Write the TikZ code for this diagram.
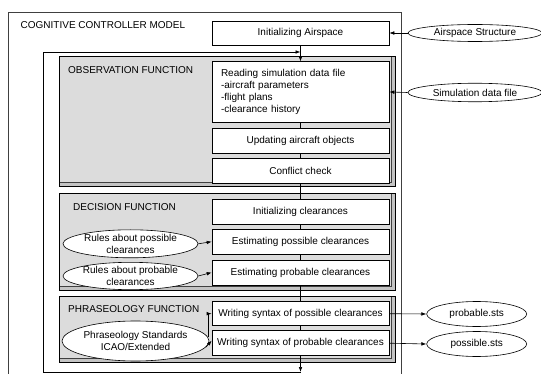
\documentclass[tikz,border=0pt]{standalone}
\usepackage{fontspec}
\setmainfont{Liberation Sans}
\usetikzlibrary{shapes.geometric,arrows.meta,calc}
\definecolor{panelgray}{HTML}{DCDCDC}
\definecolor{bandgray}{HTML}{C4C4C4}
\definecolor{framegray}{HTML}{404040}
\tikzset{
  every node/.style={font=\fontsize{10}{12}\selectfont, inner sep=0pt},
  stepbox/.style={draw=black, fill=white, line width=0.6pt, minimum width=177pt, minimum height=25pt},
  oval/.style={draw=black, fill=white, ellipse, line width=0.6pt},
  flow/.style={line width=0.6pt},
  arr/.style={line width=0.6pt, -{Latex[length=5pt,width=3.6pt]}},
  paneltitle/.style={anchor=west},
}
% raised panel: light band on the right and bottom edges
\newcommand\fpanel[4]{%
  \fill[bandgray] (#1,#2) rectangle (#3,#4);
  \fill[panelgray] (#1,#2) rectangle ($(#3,#4)+(-4,-4)$);
  \draw[framegray,line width=0.4pt] ($(#1,#4)+(0,-4)$) -- ($(#3,#4)+(-4,-4)$) -- ($(#3,#2)+(-4,0)$);
  \draw[black,line width=0.6pt] (#1,#2) rectangle (#3,#4);
}
\begin{document}
\begin{tikzpicture}[x=1pt,y=-1pt]
\useasboundingbox (0,0) rectangle (541,374);
\fill[white] (0,0) rectangle (541,374);
\begin{scope}
\clip (0,0) rectangle (541,374);

% model frame
\draw[framegray,line width=0.6pt] (8,12.5) rectangle (401,390);
\node[paneltitle] (title) at (20.5,25.5) {COGNITIVE CONTROLLER MODEL};

% function panels
\fpanel{59.5}{56.5}{395}{186}
\fpanel{59.5}{193.5}{395}{290}
\fpanel{59.5}{296.5}{395}{362}

\node[paneltitle] (obs) at (68,70.5) {OBSERVATION FUNCTION};
\node[paneltitle] (dec) at (73,207) {DECISION FUNCTION};
\node[paneltitle] (phr) at (68,309) {PHRASEOLOGY FUNCTION};

% process steps
\node[stepbox, minimum height=24pt] (ia) at (300.5,33) {Initializing Airspace};
\node[stepbox, minimum height=60.5pt, text width=159pt, align=left] (rd) at (300.5,92)
  {Reading simulation data file\\-aircraft parameters\\-flight plans\\-clearance history};
\node[stepbox] (up) at (300.5,140.8) {Updating aircraft objects};
\node[stepbox] (cc) at (300.5,170.8) {Conflict check};
\node[stepbox] (ic) at (300.5,211.6) {Initializing clearances};
\node[stepbox] (ep) at (300.5,241.7) {Estimating possible clearances};
\node[stepbox] (eb) at (300.5,272.5) {Estimating probable clearances};
\node[stepbox, minimum height=24pt] (wp) at (300.5,313.7) {Writing syntax of possible clearances};
\node[stepbox] (wb) at (300.5,343.2) {Writing syntax of probable clearances};

% inputs and outputs
\node[oval, minimum width=134pt, minimum height=17pt] (as) at (475,33) {Airspace Structure};
\node[oval, minimum width=134pt, minimum height=18.5pt] (sim) at (475,92.5) {Simulation data file};
\node[oval, minimum width=135pt, minimum height=28pt, align=center] (rp) at (130.5,243.8) {Rules about possible\\clearances};
\node[oval, minimum width=135pt, minimum height=27pt, align=center] (rb) at (130.5,276) {Rules about probable\\clearances};
\node[oval, minimum width=132pt, minimum height=40pt, align=center] (ph) at (135.5,341) {Phraseology Standards\\ICAO/Extended};
\node[oval, minimum width=100pt, minimum height=25pt] (pb) at (476.7,314) {probable.sts};
\node[oval, minimum width=100pt, minimum height=25pt] (ps) at (476.7,344) {possible.sts};

% main flow
\draw[arr] (ia.south) -- (rd.north);
\draw[flow] (rd.south) -- (up.north);
\draw[flow] (up.south) -- (cc.north);
\draw[flow] (cc.south) -- (ic.north);
\draw[flow] (ic.south) -- (ep.north);
\draw[flow] (ep.south) -- (eb.north);
\draw[flow] (eb.south) -- (wp.north);
\draw[flow] (wp.south) -- (wb.north);

% cycle back to the start of the observation step
\coordinate (lb) at (300.5,372);
\coordinate (lc) at (43,52);
\draw[arr] (wb.south) -- (lb);
\draw[arr] (lb) -| (lc) -- (lc -| ia.south);

% inputs
\draw[arr] (as.west) -- (ia.east);
\draw[arr] (sim.west) -- (rd.east);
\draw[arr] (rp.east) -- (ep.west);
\draw[arr] (rb.east) -- (eb.west);
\coordinate (phup) at ($(ph.east)+(-1,-4)$);
\draw[arr] (phup) |- (wp.west);
\draw[arr] (ph.-5) -- ([yshift=2.5pt]wb.west);

% outputs
\draw[arr] (wp.east) -- (pb.west);
\draw[arr] (wb.east) -- (ps.west);
\end{scope}
\end{tikzpicture}
\end{document}
